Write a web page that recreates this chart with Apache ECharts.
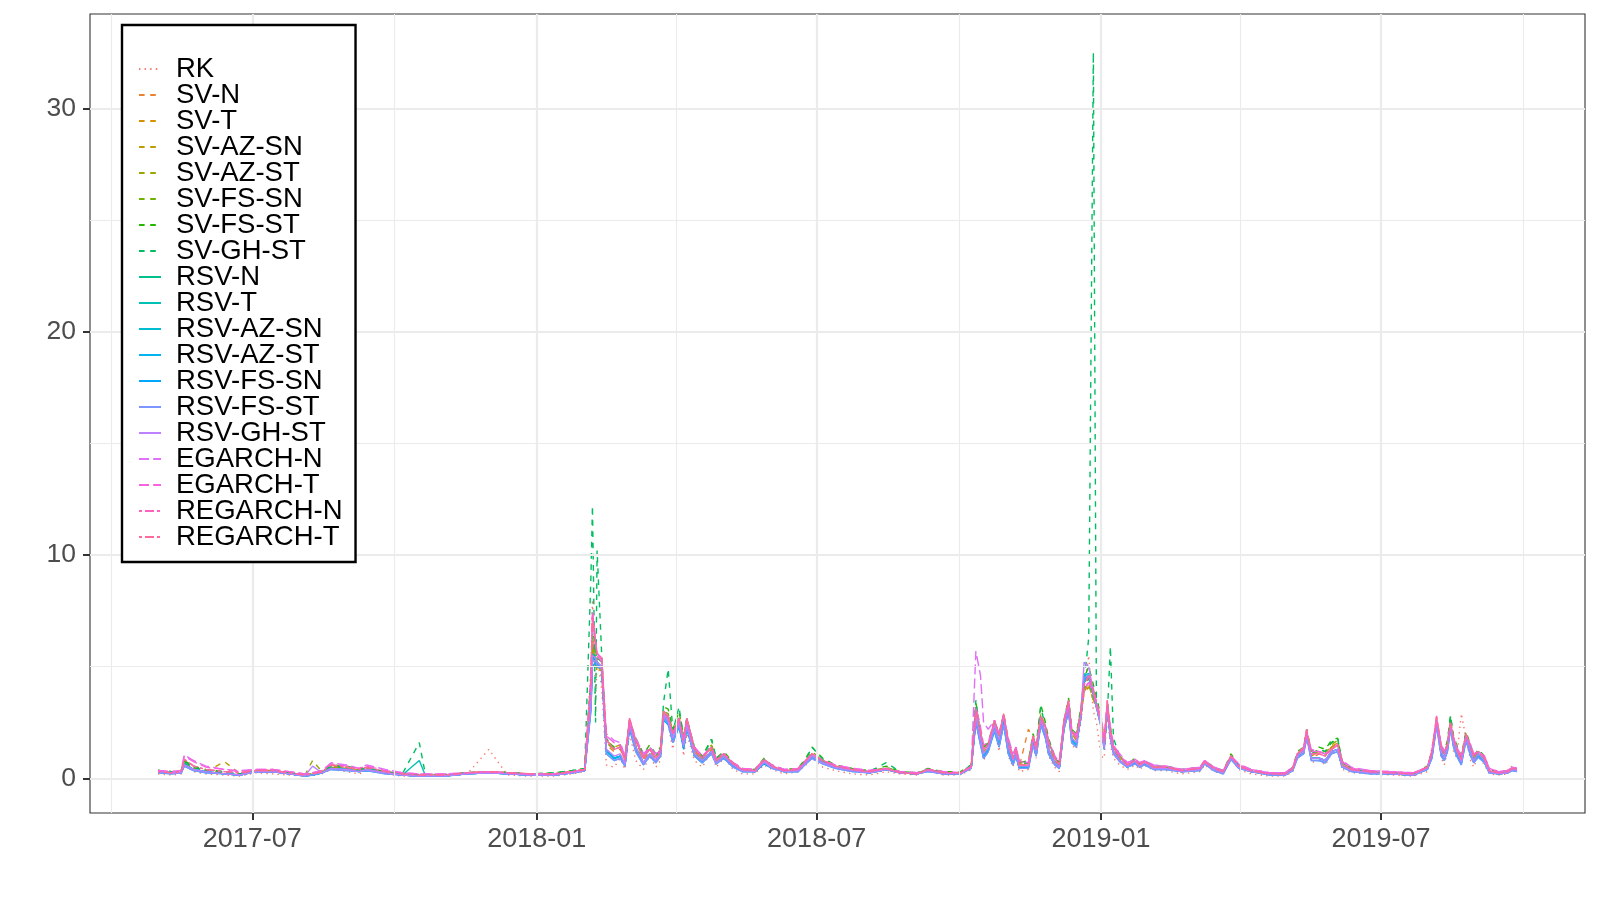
<!DOCTYPE html>
<html><head><meta charset="utf-8">
<script src="https://cdn.jsdelivr.net/npm/echarts@6/dist/echarts.min.js"></script>
<style>html,body{margin:0;padding:0;background:#fff}#c{width:1600px;height:900px}</style>
</head><body><div id="c"></div>
<script>
const dates = ['2017-05-01','2017-05-10','2017-05-16','2017-05-18','2017-05-24','2017-06-01','2017-06-13','2017-06-23','2017-07-03','2017-07-14',
'2017-07-25','2017-08-04','2017-08-09','2017-08-15','2017-08-21','2017-08-31','2017-09-08','2017-09-13','2017-09-25','2017-10-06',
'2017-10-17','2017-10-21','2017-11-03','2017-11-17','2017-12-01','2017-12-13','2017-12-28','2018-01-12','2018-01-24','2018-02-01',
'2018-02-05','2018-02-06','2018-02-08','2018-02-09','2018-02-12','2018-02-15','2018-02-20','2018-02-24','2018-02-27','2018-03-02',
'2018-03-06','2018-03-11','2018-03-15','2018-03-19','2018-03-22','2018-03-24','2018-03-27','2018-03-30','2018-04-03','2018-04-06',
'2018-04-08','2018-04-13','2018-04-18','2018-04-24','2018-04-27','2018-05-02','2018-05-08','2018-05-14','2018-05-22','2018-05-28',
'2018-06-02','2018-06-10','2018-06-19','2018-06-24','2018-06-28','2018-07-05','2018-07-13','2018-07-24','2018-08-04','2018-08-15',
'2018-08-24','2018-09-04','2018-09-11','2018-09-21','2018-10-02','2018-10-09','2018-10-12','2018-10-15','2018-10-17','2018-10-20',
'2018-10-24','2018-10-27','2018-10-30','2018-11-02','2018-11-05','2018-11-07','2018-11-09','2018-11-15','2018-11-18','2018-11-20',
'2018-11-23','2018-11-26','2018-11-28','2018-12-02','2018-12-05','2018-12-08','2018-12-11','2018-12-13','2018-12-16','2018-12-19',
'2018-12-21','2018-12-24','2018-12-27','2018-12-29','2019-01-01','2019-01-03','2019-01-05','2019-01-07','2019-01-09','2019-01-13',
'2019-01-18','2019-01-23','2019-01-26','2019-01-29','2019-02-04','2019-02-12','2019-02-22','2019-03-06','2019-03-09','2019-03-15',
'2019-03-21','2019-03-26','2019-03-31','2019-04-08','2019-04-20','2019-04-30','2019-05-05','2019-05-08','2019-05-12','2019-05-14',
'2019-05-17','2019-05-22','2019-05-26','2019-05-30','2019-06-03','2019-06-06','2019-06-12','2019-06-24','2019-07-08','2019-07-22',
'2019-07-31','2019-08-03','2019-08-06','2019-08-09','2019-08-11','2019-08-13','2019-08-15','2019-08-17','2019-08-19','2019-08-22',
'2019-08-25','2019-08-28','2019-08-30','2019-09-02','2019-09-06','2019-09-09','2019-09-15','2019-09-21','2019-09-24','2019-09-27'];

const RK = [0.2,0.15,0.2,0.6,0.3,0.2,0.15,0.1,0.25,0.2, 0.15,0.1,0.15,0.2,0.4,0.3,0.2,0.35,0.2,0.1, 0.1,0.1,0.1,0.2,1.3,0.15,0.1,0.1,0.2,0.3, 5.0,8.0,3.0,5.5,4.0,0.6,0.5,0.9,0.4,2.0, 0.8,0.4,1.0,0.5,0.8,2.5,2.4,1.3,2.9,1.0, 2.0,0.8,0.5,1.2,0.5,0.9,0.4,0.2,0.2,0.6, 0.4,0.2,0.3,0.6,0.9,0.5,0.35,0.2,0.15,0.3, 0.2,0.15,0.35,0.15,0.15,0.4,2.5,1.6,0.8,1.2, 2.3,1.2,2.6,1.0,0.5,1.1,0.3,0.4,1.5,0.9, 2.5,1.8,1.0,0.5,0.3,2.2,3.2,1.5,1.3,2.5, 4.0,5.5,3.0,2.5,1.0,0.9,2.8,1.5,0.9,0.6, 0.4,0.6,0.4,0.6,0.35,0.35,0.2,0.3,0.6,0.3, 0.2,0.9,0.4,0.2,0.1,0.1,0.3,1.0,1.2,2.0, 0.7,0.8,0.6,1.1,1.3,0.4,0.25,0.2,0.15,0.1, 0.3,1.4,2.5,0.9,0.6,1.2,2.8,1.2,0.9,2.9, 1.8,0.8,0.5,1.0,0.6,0.2,0.15,0.2,0.6,0.3];
const SV_N = [0.3,0.25,0.3,0.7,0.45,0.3,0.25,0.2,0.35,0.4, 0.25,0.15,0.2,0.3,0.5,0.45,0.5,0.4,0.3,0.2, 0.12,0.15,0.15,0.25,0.3,0.25,0.2,0.2,0.3,0.4, 4.2,6.2,5.2,5.0,5.0,1.5,1.2,1.3,0.8,2.4, 1.5,0.8,1.2,0.9,1.1,2.8,2.6,1.9,2.5,1.6, 2.4,1.2,0.8,1.3,0.8,1.0,0.6,0.35,0.3,0.75, 0.5,0.3,0.35,0.75,1.0,0.75,0.5,0.35,0.25,0.4, 0.25,0.2,0.35,0.2,0.2,0.5,2.9,1.9,1.1,1.4, 2.4,1.7,2.7,1.4,0.7,1.2,0.5,2.2,1.8,1.3, 2.6,2.1,1.4,0.7,0.5,2.4,3.2,1.9,1.6,2.8, 4.0,4.3,3.6,3.2,2.3,1.4,3.1,1.9,1.2,0.8, 0.5,0.7,0.5,0.7,0.45,0.45,0.3,0.4,0.7,0.4, 0.25,0.9,0.5,0.3,0.2,0.15,0.4,1.0,1.2,1.9, 0.9,1.1,1.0,1.4,1.6,0.6,0.35,0.25,0.2,0.15, 0.45,1.1,2.5,1.2,0.9,1.4,2.4,1.6,1.2,0.7, 1.9,1.2,0.8,1.1,0.8,0.3,0.2,0.25,0.4,0.35];
const SV_T = [0.3,0.25,0.3,0.75,0.45,0.3,0.25,0.2,0.35,0.35, 0.25,0.15,0.2,0.3,0.5,0.45,0.35,0.4,0.3,0.2, 0.12,0.15,0.15,0.25,0.3,0.25,0.2,0.2,0.3,0.4, 4.0,6.0,5.0,5.0,4.8,1.6,1.3,1.4,0.9,2.3, 1.6,0.9,1.3,1.0,1.2,2.9,2.7,2.0,2.5,1.7, 2.5,1.3,0.9,1.4,0.8,1.0,0.6,0.35,0.3,0.7, 0.5,0.3,0.35,0.7,1.0,0.75,0.5,0.35,0.25,0.4, 0.25,0.2,0.35,0.2,0.2,0.5,2.8,1.9,1.2,1.4, 2.3,1.8,2.6,1.5,0.8,1.2,0.6,0.7,1.7,1.3, 2.5,2.1,1.5,0.8,0.6,2.3,3.1,2.0,1.7,2.8, 3.9,4.2,3.5,3.2,2.4,1.5,3.0,2.0,1.3,0.8, 0.55,0.7,0.55,0.7,0.45,0.45,0.3,0.4,0.7,0.4, 0.25,0.9,0.5,0.3,0.2,0.15,0.4,1.0,1.2,1.9, 1.0,1.2,1.1,1.4,1.6,0.6,0.35,0.25,0.2,0.15, 0.45,1.1,2.4,1.3,1.0,1.4,2.4,1.7,1.3,0.8, 1.9,1.3,0.9,1.1,0.8,0.3,0.2,0.25,0.4,0.35];
const SV_AZ_SN = [0.3,0.25,0.3,0.7,0.45,0.3,0.75,0.2,0.35,0.35, 0.25,0.15,0.2,0.3,0.5,0.45,0.35,0.4,0.3,0.2, 0.12,0.15,0.15,0.25,0.3,0.25,0.2,0.2,0.3,0.4, 3.8,5.8,5.2,4.8,4.6,1.7,1.4,1.5,0.9,2.3, 1.7,1.0,1.3,1.0,1.2,2.8,2.7,2.1,2.6,1.8, 2.5,1.3,0.9,1.4,0.8,1.0,0.6,0.35,0.3,0.7, 0.5,0.3,0.35,0.7,1.0,0.75,0.5,0.35,0.25,0.4, 0.25,0.2,0.35,0.2,0.2,0.5,2.8,1.9,1.3,1.5, 2.3,1.8,2.5,1.6,0.9,1.2,0.6,0.7,1.6,1.3, 2.4,2.1,1.6,0.9,0.6,2.2,3.0,2.1,1.8,2.8, 3.8,4.1,3.5,3.2,2.5,1.6,2.9,2.1,1.4,0.9, 0.6,0.7,0.55,0.7,0.5,0.45,0.3,0.4,0.7,0.4, 0.25,0.9,0.5,0.3,0.2,0.15,0.4,1.0,1.1,1.8, 1.1,1.2,1.1,1.4,1.6,0.7,0.4,0.25,0.2,0.15, 0.45,1.0,2.3,1.3,1.1,1.4,2.4,1.7,1.3,0.9, 1.9,1.3,0.9,1.1,0.8,0.3,0.2,0.25,0.4,0.35];
const SV_AZ_ST = [0.3,0.25,0.3,0.75,0.5,0.35,0.25,0.2,0.35,0.35, 0.25,0.15,0.8,0.3,0.55,0.5,0.35,0.45,0.3,0.2, 0.12,0.15,0.15,0.25,0.3,0.25,0.2,0.2,0.3,0.4, 3.9,6.0,5.3,5.0,4.8,1.6,1.3,1.4,0.9,2.4, 1.7,1.0,1.3,1.0,1.2,2.9,2.8,2.1,2.6,1.8, 2.5,1.3,0.9,1.5,0.8,1.1,0.6,0.35,0.3,0.75, 0.5,0.3,0.35,0.75,1.1,0.8,0.5,0.35,0.25,0.45, 0.25,0.2,0.35,0.2,0.2,0.5,2.9,2.0,1.3,1.5, 2.4,1.8,2.6,1.6,0.9,1.3,0.6,0.7,1.7,1.3, 2.6,2.1,1.6,0.9,0.6,2.3,3.1,2.1,1.8,2.9, 3.9,4.2,3.6,3.3,2.5,1.6,3.0,2.1,1.4,0.9, 0.6,0.75,0.55,0.7,0.5,0.45,0.3,0.4,0.7,0.4, 0.25,0.9,0.5,0.3,0.2,0.15,0.4,1.0,1.2,1.9, 1.1,1.2,1.1,1.5,1.7,0.7,0.4,0.25,0.2,0.15, 0.45,1.0,2.4,1.3,1.1,1.5,2.5,1.7,1.3,0.9, 2.0,1.3,0.9,1.1,0.8,0.3,0.2,0.25,0.4,0.35];
const SV_FS_SN = [0.35,0.3,0.3,0.75,0.5,0.35,0.25,0.2,0.35,0.35, 0.25,0.15,0.2,0.3,0.55,0.5,0.4,0.45,0.3,0.2, 0.15,0.15,0.15,0.25,0.3,0.25,0.2,0.2,0.3,0.4, 4.1,6.3,5.5,5.2,5.0,1.6,1.3,1.4,0.9,2.5, 1.7,1.0,1.4,1.0,1.3,3.0,2.9,2.1,2.7,1.8, 2.6,1.3,0.9,1.5,0.9,1.1,0.65,0.4,0.35,0.8, 0.55,0.35,0.4,0.8,1.2,0.8,0.55,0.4,0.3,0.5, 0.3,0.25,0.4,0.25,0.25,0.55,3.1,2.0,1.3,1.5, 2.5,1.9,2.8,1.6,0.9,1.3,0.7,0.7,1.9,1.4, 2.9,2.3,1.6,0.9,0.7,2.5,3.4,2.1,1.9,3.0, 4.0,4.5,3.8,3.4,2.6,1.6,3.2,2.1,1.4,1.0, 0.6,0.8,0.6,0.75,0.5,0.5,0.35,0.45,0.75,0.45, 0.3,1.0,0.55,0.35,0.2,0.2,0.45,1.1,1.3,2.0, 1.1,1.3,1.2,1.6,1.7,0.7,0.4,0.3,0.25,0.2, 0.5,1.1,2.5,1.4,1.1,1.6,2.6,1.8,1.4,0.9, 2.0,1.4,0.95,1.2,0.9,0.35,0.25,0.3,0.45,0.4];
const SV_FS_ST = [0.35,0.3,0.35,0.8,0.55,0.4,0.3,0.2,0.35,0.35, 0.25,0.15,0.2,0.3,0.6,0.55,0.4,0.5,0.3,0.2, 0.15,0.15,0.15,0.25,0.3,0.25,0.2,0.25,0.35,0.45, 4.5,6.8,5.8,5.4,5.2,1.7,1.4,1.5,1.0,2.6, 1.8,1.1,1.5,1.1,1.4,3.2,3.1,2.2,3.0,1.9, 2.7,1.4,1.0,1.75,0.9,1.2,0.7,0.45,0.4,0.9, 0.6,0.4,0.45,0.9,1.4,0.9,0.6,0.45,0.35,0.55, 0.3,0.25,0.45,0.3,0.3,0.6,3.4,2.1,1.4,1.6, 2.6,2.0,2.9,1.7,1.0,1.4,0.7,0.8,2.0,1.5, 3.3,2.5,1.8,1.0,0.7,2.6,3.6,2.2,2.0,3.2, 4.5,5.0,4.2,3.6,2.8,1.7,3.4,2.3,1.5,1.0, 0.65,0.9,0.65,0.8,0.55,0.55,0.4,0.5,0.8,0.5, 0.35,1.1,0.6,0.4,0.25,0.25,0.5,1.2,1.4,2.2, 1.2,1.4,1.3,1.7,1.8,0.75,0.45,0.3,0.25,0.2, 0.55,1.2,2.6,1.5,1.2,1.7,2.8,1.9,1.5,1.0, 2.1,1.5,1.0,1.3,1.0,0.4,0.3,0.35,0.5,0.45];
const SV_GH_ST = [0.35,0.3,0.35,0.75,0.5,0.35,0.3,0.2,0.35,0.35, 0.25,0.15,0.2,0.3,0.55,0.5,0.4,0.45,0.3,0.2, 1.6,0.15,0.15,0.25,0.3,0.25,0.2,0.25,0.35,0.45, 9.0,12.2,2.5,10.2,5.5,1.8,1.3,1.4,0.9,2.6, 1.7,1.0,1.4,1.0,1.3,3.4,4.9,2.1,3.2,1.8, 2.7,1.3,0.9,1.75,0.9,1.1,0.65,0.4,0.35,0.85, 0.55,0.35,0.4,0.85,1.4,0.85,0.55,0.4,0.3,0.7, 0.3,0.25,0.4,0.25,0.25,0.6,3.5,2.0,1.3,1.5, 2.5,1.9,2.8,1.6,0.9,1.3,0.7,0.7,1.9,1.4, 3.2,2.3,1.7,0.9,0.7,2.6,3.5,2.1,1.9,3.1, 4.3,6.3,32.5,3.0,2.5,1.5,2.8,5.9,1.8,1.0, 0.6,0.85,0.6,0.8,0.55,0.5,0.35,0.45,0.75,0.45, 0.3,1.0,0.55,0.35,0.2,0.2,0.45,1.1,1.3,2.1, 1.1,1.3,1.2,1.6,1.8,0.7,0.4,0.3,0.25,0.2, 0.5,1.1,2.5,1.4,1.1,1.6,2.8,1.8,1.4,0.9, 2.0,1.4,1.0,1.2,0.9,0.35,0.25,0.3,0.45,0.4];
const RSV_N = [0.3,0.25,0.25,0.65,0.4,0.3,0.2,0.15,0.3,0.3, 0.2,0.12,0.15,0.25,0.45,0.4,0.3,0.4,0.25,0.15, 0.1,0.12,0.12,0.2,0.25,0.2,0.15,0.15,0.25,0.35, 3.5,5.6,5.4,5.2,5.0,1.3,0.9,1.0,0.6,2.4, 1.4,0.7,1.1,0.8,1.1,2.8,2.6,1.8,2.5,1.5, 2.4,1.1,0.8,1.2,0.7,1.0,0.6,0.35,0.3,0.7, 0.5,0.3,0.35,0.7,1.0,0.7,0.5,0.35,0.25,0.4, 0.25,0.2,0.35,0.2,0.2,0.5,2.7,1.7,1.0,1.3, 2.3,1.6,2.6,1.3,0.7,1.1,0.5,0.5,1.7,1.1, 2.6,2.0,1.3,0.7,0.5,2.4,3.2,1.8,1.6,2.8, 4.3,4.5,3.7,3.2,2.4,1.4,3.2,1.9,1.2,0.8, 0.55,0.75,0.55,0.7,0.45,0.45,0.3,0.4,0.7,0.4, 0.25,0.9,0.5,0.3,0.2,0.15,0.4,1.0,1.2,2.0, 0.9,0.9,0.8,1.2,1.3,0.55,0.35,0.25,0.2,0.15, 0.45,1.1,2.6,1.2,0.9,1.4,2.4,1.6,1.2,0.7, 1.9,1.2,0.8,1.1,0.8,0.3,0.2,0.25,0.4,0.35];
const RSV_T = [0.3,0.25,0.25,0.65,0.4,0.3,0.2,0.15,0.3,0.3, 0.2,0.12,0.15,0.25,0.45,0.4,0.3,0.4,0.25,0.15, 0.8,0.12,0.12,0.2,0.25,0.2,0.15,0.15,0.25,0.35, 3.4,5.5,5.3,5.2,5.0,1.3,0.9,1.0,0.6,2.4, 1.4,0.7,1.1,0.8,1.1,2.8,2.6,1.8,2.4,1.5, 2.4,1.1,0.8,1.2,0.7,1.0,0.6,0.35,0.3,0.7, 0.5,0.3,0.35,0.7,1.0,0.7,0.5,0.35,0.25,0.4, 0.25,0.2,0.35,0.2,0.2,0.5,2.7,1.7,1.0,1.3, 2.3,1.6,2.6,1.3,0.7,1.1,0.5,0.5,1.7,1.1, 2.6,2.0,1.3,0.7,0.5,2.4,3.2,1.8,1.6,2.8, 4.4,4.6,3.8,3.3,2.4,1.4,3.2,1.9,1.2,0.8, 0.55,0.75,0.55,0.7,0.45,0.45,0.3,0.4,0.7,0.4, 0.25,0.9,0.5,0.3,0.2,0.15,0.4,1.0,1.2,2.0, 0.9,0.9,0.8,1.2,1.3,0.55,0.35,0.25,0.2,0.15, 0.45,1.1,2.6,1.2,0.9,1.4,2.4,1.6,1.2,0.7, 1.9,1.2,0.8,1.1,0.8,0.3,0.2,0.25,0.4,0.35];
const RSV_AZ_SN = [0.3,0.25,0.25,0.6,0.4,0.3,0.2,0.15,0.3,0.3, 0.2,0.12,0.15,0.25,0.45,0.4,0.3,0.35,0.25,0.15, 0.1,0.12,0.12,0.2,0.25,0.2,0.15,0.15,0.25,0.35, 3.3,5.4,5.3,5.1,5.0,1.2,0.9,1.0,0.6,2.3, 1.3,0.7,1.0,0.8,1.0,2.7,2.5,1.7,2.4,1.4, 2.3,1.0,0.7,1.2,0.7,0.9,0.55,0.35,0.3,0.7, 0.5,0.3,0.35,0.7,0.95,0.7,0.5,0.35,0.25,0.4, 0.25,0.2,0.35,0.2,0.2,0.5,2.6,1.6,1.0,1.3, 2.2,1.5,2.5,1.2,0.7,1.0,0.5,0.5,1.6,1.1, 2.5,1.9,1.2,0.7,0.5,2.3,3.1,1.7,1.5,2.9, 4.5,4.6,3.9,3.3,2.4,1.4,3.2,1.9,1.2,0.8, 0.5,0.7,0.55,0.65,0.45,0.45,0.3,0.4,0.7,0.4, 0.25,0.9,0.5,0.3,0.2,0.15,0.4,1.0,1.2,2.0, 0.9,0.9,0.8,1.2,1.3,0.5,0.35,0.25,0.2,0.15, 0.4,1.0,2.5,1.1,0.9,1.3,2.3,1.5,1.1,0.7, 1.8,1.1,0.8,1.0,0.7,0.3,0.2,0.25,0.4,0.35];
const RSV_AZ_ST = [0.3,0.25,0.25,0.6,0.4,0.3,0.2,0.15,0.3,0.3, 0.2,0.12,0.15,0.25,0.45,0.4,0.3,0.35,0.25,0.15, 0.1,0.12,0.12,0.2,0.25,0.2,0.15,0.15,0.25,0.35, 3.2,5.3,5.3,5.1,5.0,1.2,0.9,1.0,0.6,2.3, 1.3,0.7,1.0,0.8,1.0,2.7,2.5,1.7,2.4,1.4, 2.3,1.0,0.7,1.2,0.7,0.9,0.55,0.35,0.3,0.7, 0.5,0.3,0.35,0.7,0.95,0.7,0.5,0.35,0.25,0.4, 0.25,0.2,0.35,0.2,0.2,0.5,2.6,1.6,1.0,1.3, 2.2,1.5,2.5,1.2,0.7,1.0,0.5,0.5,1.6,1.1, 2.5,1.9,1.2,0.7,0.5,2.3,3.1,1.7,1.5,2.9, 4.6,4.7,3.9,3.3,2.4,1.4,3.2,1.9,1.2,0.8, 0.5,0.7,0.55,0.65,0.45,0.45,0.3,0.4,0.7,0.4, 0.25,0.9,0.5,0.3,0.2,0.15,0.4,1.0,1.2,2.0, 0.9,0.9,0.8,1.2,1.3,0.5,0.35,0.25,0.2,0.15, 0.4,1.0,2.5,1.1,0.9,1.3,2.3,1.5,1.1,0.7, 1.8,1.1,0.8,1.0,0.7,0.3,0.2,0.25,0.4,0.35];
const RSV_FS_SN = [0.25,0.2,0.25,0.55,0.35,0.25,0.2,0.15,0.3,0.3, 0.2,0.1,0.15,0.25,0.4,0.35,0.3,0.35,0.2,0.15, 0.1,0.1,0.1,0.2,0.25,0.2,0.15,0.15,0.25,0.35, 3.0,5.0,5.2,5.0,4.9,1.1,0.8,0.9,0.55,2.2, 1.2,0.6,1.0,0.7,1.0,2.6,2.4,1.6,2.3,1.3, 2.2,1.0,0.7,1.1,0.65,0.9,0.5,0.3,0.3,0.65, 0.45,0.3,0.3,0.65,0.9,0.65,0.45,0.3,0.25,0.4, 0.25,0.2,0.3,0.2,0.2,0.45,2.5,1.5,0.9,1.2, 2.1,1.4,2.4,1.1,0.6,1.0,0.45,0.45,1.5,1.0, 2.4,1.8,1.1,0.6,0.45,2.2,3.0,1.6,1.4,2.8, 4.4,4.6,3.8,3.2,2.3,1.3,3.1,1.8,1.1,0.75, 0.5,0.65,0.5,0.6,0.4,0.4,0.3,0.35,0.65,0.35, 0.2,0.85,0.45,0.3,0.15,0.15,0.35,0.9,1.1,1.9, 0.8,0.8,0.7,1.1,1.2,0.5,0.3,0.2,0.2,0.15, 0.4,0.9,2.4,1.0,0.8,1.2,2.2,1.4,1.0,0.6, 1.7,1.0,0.7,0.95,0.7,0.25,0.2,0.25,0.35,0.3];
const RSV_FS_ST = [0.25,0.2,0.25,0.55,0.35,0.25,0.2,0.15,0.3,0.3, 0.2,0.1,0.15,0.25,0.4,0.35,0.3,0.35,0.2,0.15, 0.1,0.1,0.1,0.2,0.25,0.2,0.15,0.15,0.25,0.35, 3.1,5.2,5.3,5.0,4.9,1.1,0.8,0.9,0.55,2.3, 1.2,0.6,1.0,0.7,1.0,2.7,2.5,1.6,2.4,1.4, 2.3,1.0,0.7,1.1,0.65,0.9,0.5,0.3,0.3,0.7, 0.45,0.3,0.3,0.65,0.9,0.65,0.45,0.3,0.25,0.4, 0.25,0.2,0.3,0.2,0.2,0.45,2.6,1.5,0.9,1.2, 2.2,1.4,2.4,1.1,0.6,1.0,0.45,0.45,1.5,1.0, 2.4,1.8,1.1,0.6,0.45,2.2,3.0,1.6,1.4,2.8, 4.5,4.6,3.8,3.2,2.3,1.3,3.1,1.8,1.1,0.75, 0.5,0.65,0.5,0.6,0.4,0.4,0.3,0.35,0.65,0.35, 0.2,0.85,0.45,0.3,0.15,0.15,0.35,0.9,1.1,1.8, 0.8,0.8,0.7,1.1,1.2,0.5,0.3,0.2,0.2,0.15, 0.4,0.9,2.3,1.0,0.8,1.2,2.2,1.4,1.0,0.6, 1.7,1.0,0.7,0.95,0.7,0.25,0.2,0.25,0.35,0.3];
const RSV_GH_ST = [0.3,0.25,0.25,0.6,0.4,0.3,0.2,0.15,0.3,0.3, 0.2,0.12,0.55,0.25,0.45,0.4,0.3,0.4,0.25,0.15, 0.1,0.12,0.12,0.2,0.25,0.2,0.15,0.15,0.25,0.35, 3.3,5.5,5.4,5.2,5.0,1.3,1.0,1.1,0.65,2.5, 1.4,0.7,1.1,0.8,1.1,2.8,2.6,1.8,2.5,1.5, 2.4,1.1,0.8,1.2,0.7,1.0,0.6,0.35,0.3,0.75, 0.5,0.3,0.35,0.7,1.0,0.7,0.5,0.35,0.25,0.4, 0.25,0.2,0.35,0.2,0.2,0.5,2.8,1.8,1.1,1.4, 2.4,1.7,2.8,1.4,0.8,1.2,0.55,0.55,1.8,1.2, 2.6,2.0,1.3,0.7,0.5,2.4,3.3,1.8,1.6,2.9, 5.2,5.0,3.9,3.2,2.4,1.4,3.3,1.9,1.2,0.8, 0.55,0.75,0.55,0.7,0.45,0.45,0.3,0.4,0.7,0.4, 0.25,0.95,0.5,0.3,0.2,0.15,0.4,1.0,1.2,2.0, 0.9,0.9,0.8,1.2,1.3,0.55,0.35,0.25,0.2,0.15, 0.45,1.1,2.6,1.2,0.9,1.4,2.4,1.6,1.2,0.75, 1.9,1.2,0.8,1.1,0.8,0.3,0.2,0.25,0.4,0.35];
const EGARCH_N = [0.35,0.3,0.35,1.05,0.8,0.55,0.4,0.35,0.4,0.4, 0.3,0.2,0.25,0.35,0.7,0.6,0.45,0.6,0.4,0.25, 0.2,0.2,0.2,0.25,0.3,0.25,0.2,0.2,0.3,0.4, 4.5,7.5,6.0,5.5,5.2,2.0,1.7,1.6,1.0,2.4, 1.8,1.1,1.4,1.1,1.3,2.9,2.7,2.0,2.5,1.8, 2.5,1.4,1.0,1.4,0.9,1.1,0.7,0.45,0.4,0.85, 0.6,0.4,0.45,0.8,1.1,0.8,0.6,0.45,0.35,0.45, 0.3,0.25,0.4,0.3,0.25,0.5,5.7,4.6,2.5,2.2, 2.6,2.0,2.8,1.8,1.1,1.4,0.8,0.7,1.8,1.4, 2.7,2.3,1.7,1.0,0.8,2.5,3.3,2.2,1.9,2.9, 4.0,4.3,3.9,3.4,2.7,1.8,3.3,2.3,1.5,1.1, 0.7,0.85,0.7,0.8,0.6,0.55,0.4,0.5,0.8,0.5, 0.35,1.0,0.65,0.4,0.25,0.25,0.5,1.1,1.3,2.0, 1.3,1.2,1.1,1.3,1.5,0.8,0.5,0.35,0.3,0.25, 0.5,1.2,2.6,1.5,1.2,1.5,2.4,1.8,1.4,1.0, 1.9,1.5,1.1,1.2,1.0,0.45,0.3,0.35,0.5,0.45];
const EGARCH_T = [0.35,0.3,0.35,1.0,0.75,0.5,0.4,0.3,0.4,0.4, 0.3,0.2,0.25,0.35,0.65,0.55,0.45,0.55,0.35,0.25, 0.2,0.2,0.2,0.25,0.3,0.25,0.2,0.2,0.3,0.4, 4.4,7.3,6.0,5.6,5.3,1.9,1.6,1.5,0.9,2.5, 1.7,1.0,1.4,1.0,1.3,2.9,2.7,2.0,2.6,1.8, 2.6,1.4,1.0,1.4,0.85,1.1,0.7,0.45,0.4,0.85, 0.6,0.4,0.45,0.8,1.1,0.8,0.6,0.45,0.35,0.45, 0.3,0.25,0.4,0.3,0.25,0.5,3.2,2.3,1.5,1.6, 2.6,2.0,2.8,1.7,1.0,1.4,0.75,0.7,1.8,1.4, 2.7,2.3,1.6,1.0,0.75,2.5,3.3,2.2,1.9,2.9, 4.0,4.3,3.8,3.4,2.6,1.7,3.3,2.2,1.5,1.0, 0.7,0.85,0.7,0.8,0.55,0.55,0.4,0.5,0.8,0.5, 0.35,1.0,0.6,0.4,0.25,0.25,0.5,1.1,1.3,2.0, 1.2,1.2,1.1,1.3,1.5,0.75,0.45,0.35,0.3,0.25, 0.5,1.2,2.6,1.5,1.2,1.5,2.4,1.8,1.4,1.0, 1.9,1.5,1.1,1.2,1.0,0.45,0.3,0.35,0.5,0.45];
const REGARCH_N = [0.3,0.25,0.3,0.85,0.55,0.4,0.3,0.25,0.35,0.35, 0.25,0.15,0.2,0.3,0.6,0.5,0.4,0.5,0.3,0.2, 0.15,0.15,0.15,0.25,0.3,0.25,0.2,0.2,0.3,0.4, 4.3,7.4,6.2,5.6,5.4,1.7,1.3,1.4,0.8,2.7, 1.7,0.9,1.3,0.9,1.2,3.0,2.8,2.0,2.7,1.7, 2.7,1.3,0.9,1.4,0.8,1.1,0.65,0.4,0.35,0.85, 0.55,0.35,0.4,0.8,1.1,0.8,0.55,0.4,0.3,0.45, 0.25,0.2,0.4,0.25,0.25,0.55,3.1,2.1,1.3,1.5, 2.6,1.9,2.9,1.6,0.9,1.3,0.6,0.6,1.9,1.3, 2.8,2.3,1.6,0.9,0.6,2.6,3.5,2.1,1.8,3.0, 4.2,4.6,4.0,3.4,2.6,1.6,3.5,2.1,1.4,0.95, 0.6,0.8,0.6,0.75,0.5,0.5,0.35,0.45,0.75,0.45, 0.3,1.0,0.55,0.35,0.2,0.2,0.45,1.1,1.4,2.2, 1.1,1.1,1.0,1.3,1.5,0.65,0.4,0.3,0.25,0.2, 0.5,1.2,2.8,1.4,1.1,1.5,2.5,1.8,1.3,0.85, 2.0,1.4,1.0,1.2,0.9,0.35,0.25,0.3,0.45,0.4];
const REGARCH_T = [0.3,0.25,0.3,0.85,0.55,0.4,0.3,0.25,0.35,0.35, 0.25,0.15,0.2,0.3,0.6,0.5,0.4,0.5,0.3,0.2, 0.15,0.15,0.15,0.25,0.3,0.25,0.2,0.2,0.3,0.4, 4.2,7.2,6.1,5.6,5.4,1.7,1.3,1.4,0.8,2.7, 1.7,0.9,1.3,0.9,1.2,3.0,2.8,2.0,2.7,1.7, 2.7,1.3,0.9,1.4,0.8,1.1,0.65,0.4,0.35,0.85, 0.55,0.35,0.4,0.8,1.1,0.8,0.55,0.4,0.3,0.45, 0.25,0.2,0.4,0.25,0.25,0.55,3.0,2.1,1.3,1.5, 2.6,1.9,2.9,1.6,0.9,1.3,0.6,0.6,1.9,1.3, 2.8,2.3,1.6,0.9,0.6,2.6,3.5,2.1,1.8,3.0, 4.2,4.6,4.0,3.4,2.6,1.6,3.5,2.1,1.4,0.95, 0.6,0.8,0.6,0.75,0.5,0.5,0.35,0.45,0.75,0.45, 0.3,1.0,0.55,0.35,0.2,0.2,0.45,1.1,1.4,2.2, 1.1,1.1,1.0,1.3,1.5,0.65,0.4,0.3,0.25,0.2, 0.5,1.2,2.8,1.4,1.1,1.5,2.5,1.8,1.3,0.85, 2.0,1.4,1.0,1.2,0.9,0.35,0.25,0.3,0.45,0.4];

const seriesNames = ['RK','SV-N','SV-T','SV-AZ-SN','SV-AZ-ST','SV-FS-SN','SV-FS-ST','SV-GH-ST','RSV-N','RSV-T','RSV-AZ-SN','RSV-AZ-ST','RSV-FS-SN','RSV-FS-ST','RSV-GH-ST','EGARCH-N','EGARCH-T','REGARCH-N','REGARCH-T'];
const seriesValues = [RK,SV_N,SV_T,SV_AZ_SN,SV_AZ_ST,SV_FS_SN,SV_FS_ST,SV_GH_ST,RSV_N,RSV_T,RSV_AZ_SN,RSV_AZ_ST,RSV_FS_SN,RSV_FS_ST,RSV_GH_ST,EGARCH_N,EGARCH_T,REGARCH_N,REGARCH_T];
const seriesColors = ['#F8766D','#EA8331','#D69100','#BE9C00','#9BA700','#6FB000','#25B700','#00BD5F','#00C08F','#00C1B2','#00BDD0','#00B5ED','#00A7FF','#7D96FF','#BC81FF','#E16FF7','#F863DF','#FF61C0','#FE6A9A'];
const seriesDash = ['dotted','dashed','dashed','dashed','dashed','dashed','dashed','dashed','solid','solid','solid','solid','solid','solid','solid','longdash','longdash','twodash','twodash'];
const xTickLabels = ['2017-07-01','2018-01-01','2018-07-01','2019-01-01','2019-07-01'];
const xMinorGrid = ['2017-04-01','2017-10-01','2018-04-01','2018-10-01','2019-04-01','2019-10-01'];
const yTickLabels = [0,10,20,30];
const yMinorGrid = [5,15,25];

function ts(s){const p=s.split('-').map(Number);return Date.UTC(p[0],p[1]-1,p[2]);}
const dashMap = {dotted:[1.4,4.2], dashed:[5.6,5.6], solid:'solid', longdash:[10,4.2], twodash:[3,3,9,3]};
const FONT = '"Liberation Sans", Arial, Helvetica, sans-serif';

const chart = echarts.init(document.getElementById('c'), null, {renderer:'canvas'});
const series = [{
  type:'line', data:[], z:1, silent:true,
  markLine:{silent:true, symbol:'none', animation:false, label:{show:false},
    data:[].concat(
      xMinorGrid.map(d=>({xAxis:ts(d), lineStyle:{color:'#EBEBEB',width:1.1,type:'solid'}})),
      yMinorGrid.map(v=>({yAxis:v, lineStyle:{color:'#EBEBEB',width:1.1,type:'solid'}})),
      xTickLabels.map(d=>({xAxis:ts(d), lineStyle:{color:'#EBEBEB',width:2.2,type:'solid'}})),
      yTickLabels.map(v=>({yAxis:v, lineStyle:{color:'#EBEBEB',width:2.2,type:'solid'}}))
    )}
}];
seriesNames.forEach((n,i)=>{
  series.push({
    name:n, type:'line', z:3, symbol:'none', showSymbol:false, smooth:false,
    data: dates.map((d,k)=>[ts(d), seriesValues[i][k]]),
    lineStyle:{color:seriesColors[i], width:1.4, type:dashMap[seriesDash[i]]},
    itemStyle:{color:seriesColors[i]},
    emphasis:{disabled:true}
  });
});
const bad = seriesValues.map((a,i)=>a.length!==dates.length?seriesNames[i]+':'+a.length:null).filter(Boolean);

chart.setOption({
  animation:false,
  backgroundColor:'#ffffff',
  grid:{left:90, right:15, top:14, bottom:87, show:true, borderColor:'#333333', borderWidth:1.1, backgroundColor:'#ffffff'},
  xAxis:{type:'value', min:ts('2017-03-18'), max:ts('2019-11-10'), scale:true,
    axisLine:{show:false, onZero:false},
    axisTick:{show:true, length:7, lineStyle:{color:'#333333', width:2}, customValues:xTickLabels.map(ts)},
    axisLabel:{show:true, margin:13, color:'#4D4D4D', fontSize:27, fontFamily:FONT, customValues:xTickLabels.map(ts),
      formatter:function(v){const d=new Date(v);return d.getUTCFullYear()+'-'+String(d.getUTCMonth()+1).padStart(2,'0');}},
    splitLine:{show:false}},
  yAxis:{type:'value', min:-1.55, max:34.22,
    axisLine:{show:false, onZero:false},
    axisTick:{show:true, length:7, lineStyle:{color:'#333333', width:2}, customValues:yTickLabels},
    axisLabel:{show:true, margin:14, color:'#4D4D4D', fontSize:26.5, fontFamily:FONT, customValues:yTickLabels},
    splitLine:{show:false}},
  legend:{show:true, z:50, zlevel:1, data:seriesNames, orient:'vertical', left:122, top:25, padding:[30,13,11,16],
    itemGap:-2, itemWidth:22, itemHeight:14, borderColor:'#000000', borderWidth:2.4, backgroundColor:'#ffffff',
    selectedMode:false,
    itemStyle:{color:'rgba(0,0,0,0)', borderWidth:0, opacity:0},
    textStyle:{fontSize:27.5, lineHeight:25, color:'#000000', fontFamily:FONT, padding:[0,0,0,10]}},
  graphic: bad.length ? [{type:'text', left:600, top:200, style:{text:'LEN '+bad.join(' '), fontSize:30, fill:'red'}}] : [],
  series: series
});
</script></body></html>
